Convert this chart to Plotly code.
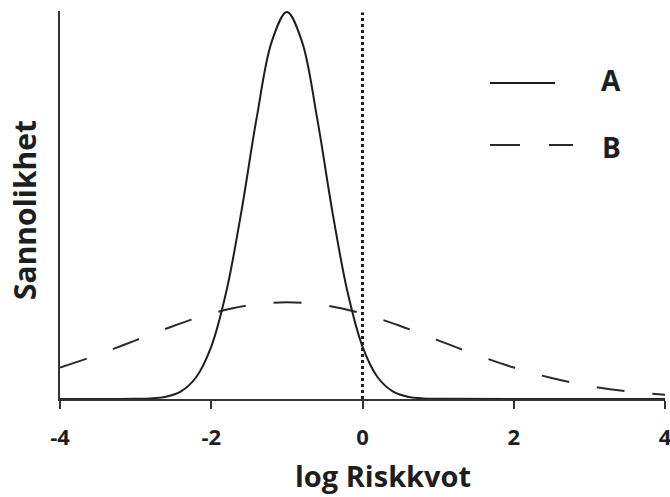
import plotly.graph_objects as go

# A: narrow distribution
a_x = [-4.0, -3.0, -2.8, -2.6, -2.4, -2.2, -2.0, -1.8, -1.6, -1.4, -1.2, -1.0,
       -0.8, -0.6, -0.4, -0.2, 0.0, 0.2, 0.4, 0.6, 0.8, 1.0, 4.0]
a_y = [0.0, 0.0003, 0.0012, 0.0048, 0.0158, 0.0448, 0.108, 0.222, 0.388, 0.579, 0.737, 0.798,
       0.737, 0.579, 0.388, 0.222, 0.108, 0.0448, 0.0158, 0.0048, 0.0012, 0.0003, 0.0]

# B: wide distribution
b_x = [-4.0, -3.5, -3.0, -2.5, -2.0, -1.5, -1.0, -0.5, 0.0, 0.5, 1.0, 1.5, 2.0, 2.5, 3.0, 3.5, 4.0]
b_y = [0.0648, 0.0913, 0.121, 0.1506, 0.1761, 0.1934, 0.1995, 0.1934, 0.1761, 0.1506, 0.121,
       0.0913, 0.0648, 0.0432, 0.027, 0.0159, 0.0088]

ref_x = [0, 0]
ref_y = [0, 0.797]

tick_vals = [-4, -2, 0, 2, 4]
tick_text = ["-4", "-2", "0", "2", "4"]

series_names = ["A", "B"]
x_title = "log Riskkvot"
y_title = "Sannolikhet"

FONT = "Open Sans"
INK = "#1e1e1e"

fig = go.Figure()
fig.add_trace(go.Scatter(x=ref_x, y=ref_y, mode="lines",
                         line=dict(color=INK, width=3, dash="dot"), showlegend=False))
fig.add_trace(go.Scatter(x=b_x, y=b_y, mode="lines", line_shape="spline",
                         line=dict(color="#2a2a2a", width=2, dash="28px,28px"), showlegend=False))
fig.add_trace(go.Scatter(x=a_x, y=a_y, mode="lines", line_shape="spline",
                         line=dict(color=INK, width=2), showlegend=False))

# pixel -> paper helpers (plot area: x 60..665, y 11..399)
def px_to_paper_y(p):
    return (399 - p) / 388

def px_to_paper_x(p):
    return (p - 60) / 605

# manual legend
fig.add_shape(type="line", xref="paper", yref="paper",
              x0=px_to_paper_x(490), x1=px_to_paper_x(555),
              y0=px_to_paper_y(83), y1=px_to_paper_y(83),
              line=dict(color=INK, width=2))
fig.add_shape(type="line", xref="paper", yref="paper",
              x0=px_to_paper_x(490), x1=px_to_paper_x(573),
              y0=px_to_paper_y(145), y1=px_to_paper_y(145),
              line=dict(color="#2a2a2a", width=2, dash="30px,29px"))
for name, py in zip(series_names, [80, 147]):
    fig.add_annotation(x=px_to_paper_x(611), y=px_to_paper_y(py), xref="paper", yref="paper",
                       text=name, showarrow=False, xanchor="center", yanchor="middle",
                       font=dict(family=FONT, size=28, color=INK, weight=700))

# axis titles
fig.add_annotation(x=px_to_paper_x(383), y=px_to_paper_y(475), xref="paper", yref="paper",
                   text=x_title, showarrow=False, xanchor="center", yanchor="middle",
                   font=dict(family=FONT, size=29, color=INK, weight=700))
fig.add_annotation(x=px_to_paper_x(25), y=px_to_paper_y(210), xref="paper", yref="paper",
                   text=y_title, showarrow=False, xanchor="center", yanchor="middle",
                   textangle=-90,
                   font=dict(family=FONT, size=30, color=INK, weight=700))

fig.update_xaxes(range=[-4, 4], tickvals=tick_vals, ticktext=tick_text, automargin=False,
                 showgrid=False, zeroline=False, showline=True, linecolor="#333", linewidth=2,
                 ticks="outside", ticklen=8, tickwidth=1.5, tickcolor="#333",
                 ticklabelstandoff=10, ticklabeloverflow="allow",
                 tickfont=dict(family=FONT, size=22, color=INK, weight=700))
fig.update_yaxes(range=[0, 0.8], showgrid=False, zeroline=False, showline=True, automargin=False,
                 linecolor="#333", linewidth=2, showticklabels=False, ticks="")

fig.update_layout(width=670, height=497, margin=dict(l=60, r=5, t=11, b=98),
                  plot_bgcolor="white", paper_bgcolor="white", showlegend=False)

fig.write_html("out.html")
